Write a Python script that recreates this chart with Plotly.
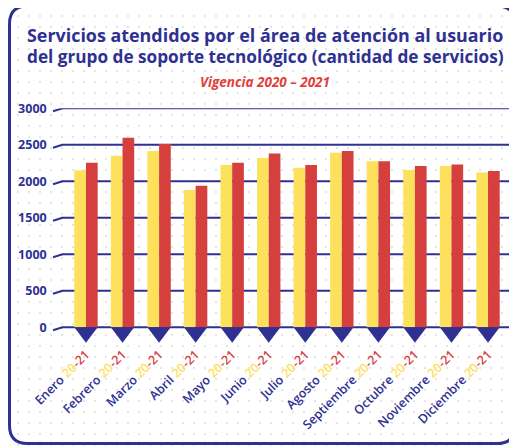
import plotly.graph_objects as go
import base64

# ---- data ----
months = ["Enero", "Febrero", "Marzo", "Abril", "Mayo", "Junio", "Julio",
          "Agosto", "Septiembre", "Octubre", "Noviembre", "Diciembre"]
values_2020 = [2150, 2350, 2415, 1880, 2225, 2320, 2185, 2390, 2275, 2155, 2210, 2120]
values_2021 = [2255, 2595, 2510, 1940, 2255, 2380, 2225, 2415, 2275, 2210, 2230, 2140]
y_ticks = [0, 500, 1000, 1500, 2000, 2500, 3000]

title_line1 = "Servicios atendidos por el área de atención al usuario"
title_line2 = "del grupo de soporte tecnológico (cantidad de servicios)"
subtitle_text = "Vigencia 2020 – 2021"

NAVY = "#2e3192"
YELLOW = "#fde05c"
RED = "#d5403f"
SUB_RED = "#e2403d"

W, H = 517, 447
OFF = 8  # page body margin offset
FONT = "Open Sans"

def px(x):
    return (x - OFF) / W

def py(y):
    return 1 - (y - OFF) / H

tick_text = [f'{m} <span style="color:{YELLOW}">20</span><span style="color:{RED}">-21</span>' for m in months]

fig = go.Figure()
fig.add_trace(go.Bar(x=months, y=values_2020, name="2020", marker=dict(color=YELLOW, line=dict(width=0))))
fig.add_trace(go.Bar(x=months, y=values_2021, name="2021", marker=dict(color=RED, line=dict(width=0))))

# plot geometry (pixels, in reference image coordinates)
x_left, x_right = 67.7, 506.3
y0_px, y3000_px = 327.3, 108.3
scale = (y0_px - y3000_px) / 3000.0       # px per unit
y_min = -225                               # room below zero for the triangles
ybottom_px = y0_px - y_min * scale

shapes = []
for t in y_ticks:
    shapes.append(dict(type="line", xref="paper", yref="y", x0=px(62), x1=px(512), y0=t, y1=t,
                       line=dict(color=NAVY, width=2), layer="below"))
    shapes.append(dict(type="line", xref="paper", yref="y", ysizemode="pixel", yanchor=t,
                       x0=px(53), x1=px(62.5), y0=-3, y1=0,
                       line=dict(color=NAVY, width=2), layer="below"))

# decorative triangles under each month
for m in months:
    shapes.append(dict(type="path", xref="x", yref="y", xsizemode="pixel", ysizemode="pixel",
                       xanchor=m, yanchor=0, path="M -11.7,0 L 11.7,0 L 0,-15.5 Z",
                       fillcolor=NAVY, line=dict(width=0), layer="above"))

# rounded frame
L, T, R, B, r = 9.5, 6, 515, 443.5, 18
path = (f"M {px(L)},{py(T + r)} Q {px(L)},{py(T)} {px(L + r)},{py(T)} "
        f"L {px(R - r)},{py(T)} Q {px(R)},{py(T)} {px(R)},{py(T + r)} "
        f"L {px(R)},{py(B - r)} Q {px(R)},{py(B)} {px(R - r)},{py(B)} "
        f"L {px(L + r)},{py(B)} Q {px(L)},{py(B)} {px(L)},{py(B - r)} Z")
shapes.append(dict(type="path", xref="paper", yref="paper", path=path,
                   line=dict(color=NAVY, width=3), layer="above"))

# dotted background pattern
svg = (f'<svg xmlns="http://www.w3.org/2000/svg" width="{W}" height="{H}">'
       '<defs><pattern id="d" x="-3" y="-5" width="11" height="11" patternUnits="userSpaceOnUse">'
       '<circle cx="2" cy="2" r="1" fill="#dcdcdc"/></pattern></defs>'
       f'<rect width="{W}" height="{H}" fill="url(#d)"/></svg>')
img_src = "data:image/svg+xml;base64," + base64.b64encode(svg.encode()).decode()

fig.update_layout(
    width=W, height=H,
    margin=dict(l=0, r=0, t=0, b=0, pad=0),
    paper_bgcolor="white", plot_bgcolor="rgba(0,0,0,0)",
    showlegend=False,
    barmode="group", bargap=0.36, bargroupgap=0,
    images=[dict(source=img_src, xref="paper", yref="paper", x=0, y=1, sizex=1, sizey=1,
                 sizing="stretch", xanchor="left", yanchor="top", layer="below")],
    shapes=shapes,
    xaxis=dict(domain=[px(x_left), px(x_right)], tickvals=months, ticktext=tick_text,
               tickangle=-45, showgrid=False, zeroline=False, showline=False, ticks="",
               ticklabelstandoff=0, automargin=False,
               tickfont=dict(family=FONT, size=12.5, color=NAVY, weight=600)),
    yaxis=dict(domain=[py(ybottom_px), py(y3000_px)], range=[y_min, 3000], tickvals=y_ticks,
               showgrid=False, zeroline=False, showline=False, ticks="",
               ticklabelstandoff=20, automargin=False,
               tickfont=dict(family=FONT, size=12.5, color=NAVY, weight="bold")),
    annotations=[
        dict(text=title_line1, xref="paper", yref="paper", x=px(265), y=py(35), xanchor="center",
             yanchor="middle", showarrow=False,
             font=dict(family=FONT, size=17.9, color=NAVY, weight="bold")),
        dict(text=title_line2, xref="paper", yref="paper", x=px(265), y=py(57), xanchor="center",
             yanchor="middle", showarrow=False,
             font=dict(family=FONT, size=17.2, color=NAVY, weight="bold")),
        dict(text=f"<i>{subtitle_text}</i>", xref="paper", yref="paper", x=px(265), y=py(82.5),
             xanchor="center", yanchor="middle", showarrow=False,
             font=dict(family=FONT, size=13.5, color=SUB_RED, weight="bold")),
    ],
)

fig.write_html("out.html")
